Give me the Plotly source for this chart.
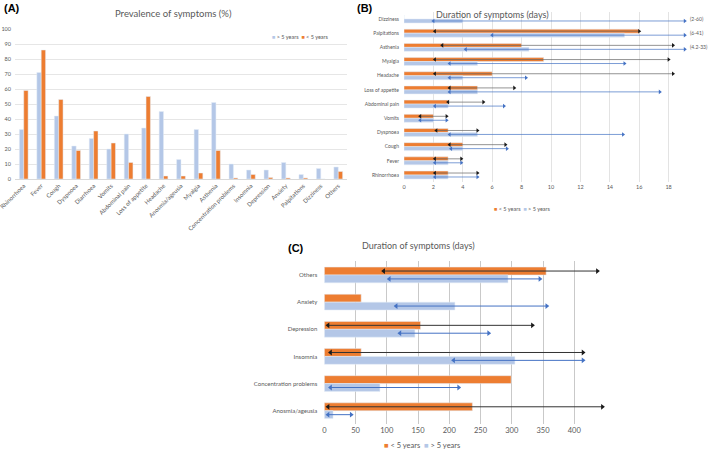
import plotly.graph_objects as go

# ---------------- Panel A data ----------------
cats_a = ["Rhinorrhoea", "Fever", "Cough", "Dyspnoea", "Diarrhoea", "Vomits",
          "Abdominal pain", "Loss of appetite", "Headache", "Anosmia/ageusia",
          "Myalgia", "Asthenia", "Concentration problems", "Insomnia",
          "Depression", "Anxiety", "Palpitations", "Dizziness", "Others"]
a_gt5 = [33, 71, 42, 22, 27, 20, 30, 34, 45, 13, 33, 51, 10, 6, 6, 11, 3, 7, 8]
a_lt5 = [59, 86, 53, 19, 32, 24, 11, 55, 2, 2, 4, 19, 0.7, 3, 1, 0.7, 0.7, 0, 5]

# ---------------- Panel B data (top to bottom) ----------------
cats_b = ["Dizziness", "Palpitations", "Asthenia", "Myalgia", "Headache",
          "Loss of appetite", "Abdominal pain", "Vomits", "Dyspnoea", "Cough",
          "Fever", "Rhinorrhoea"]
b_lt5 = [None, 16, 8, 9.5, 6, 5, 3, 2, 3, 4, 3, 3]
b_lt5_lo = [None, 2.1, 2.6, 2.1, 2.1, 3.1, 3, 1.1, 2.2, 3.1, 2.1, 2.1]
b_lt5_hi = [None, 16, 18.3, 18, 18.3, 7.5, 5.4, 2.9, 5, 6.9, 3.9, 5]
b_gt5 = [4, 15, 8.5, 5, 4, 5, 3, 2, 5, 4, 3, 3]
b_gt5_lo = [2, 6, 4.2, 3.1, 3.1, 3.1, 2.1, 1.1, 3.1, 3.2, 2.1, 2.1]
b_gt5_hi = [60, 41, 33, 15, 8.3, 17.4, 6.8, 2.9, 14.9, 7, 3.9, 5]
b_ticks = [0, 2, 4, 6, 8, 10, 12, 14, 16, 18]

# ---------------- Panel C data (top to bottom) ----------------
cats_c = ["Others", "Anxiety", "Depression", "Insomnia",
          "Concentration problems", "Anosmia/ageusia"]
c_lt5 = [355, 59, 154, 59, 299, 237]
c_lt5_lo = [95, None, 6, 10, None, 6]
c_lt5_hi = [437, None, 333, 414, None, 445]
c_gt5 = [294, 209, 145, 305, 89, 14]
c_gt5_lo = [104, 115, 121, 207, 10, 6]
c_gt5_hi = [345, 356, 263, 414, 215, 43]
c_ticks = [0, 50, 100, 150, 200, 250, 300, 350, 400]

series_names = ["< 5 years", "> 5 years"]

ORANGE = "#ED7D31"
LBLUE = "#B4C7E7"
DBLUE = "#4472C4"
DARK = "#1a1a1a"
GRAY_TXT = "#595959"
FONT = "Lato"

W, H = 709, 450
def px(x):
    return x / W
def py(y):
    return (H - y) / H

fig = go.Figure()

# ---- Panel A ----
fig.add_trace(go.Bar(x=cats_a, y=a_gt5, name=series_names[1], marker_color=LBLUE,
                     xaxis="x", yaxis="y", showlegend=False))
fig.add_trace(go.Bar(x=cats_a, y=a_lt5, name=series_names[0], marker_color=ORANGE,
                     xaxis="x", yaxis="y", showlegend=False))


def range_trace(cats, lo, hi, off, color, lcolor, size, lw, xa, ya, clip=None):
    n = len(cats)
    xs, ys, syms = [], [], []
    for i in range(n):
        if lo[i] is None:
            continue
        yy = (n - 1 - i) + off
        h = hi[i] if clip is None else min(hi[i], clip)
        xs += [lo[i], h, None]
        ys += [yy, yy, None]
        syms += ["triangle-left", "triangle-right", "circle"]
    return go.Scatter(x=xs, y=ys, mode="lines+markers",
                      line=dict(color=lcolor, width=lw),
                      marker=dict(symbol=syms, size=size, color=color),
                      xaxis=xa, yaxis=ya, showlegend=False, hoverinfo="skip",
                      connectgaps=False)


def hbars(cats, vals, offset, width, color, name, xa, ya):
    n = len(cats)
    ys = [(n - 1 - i) for i in range(n)]
    return go.Bar(x=[v if v is not None else 0 for v in vals], y=ys, orientation="h",
                  width=width, offset=offset, marker_color=color, name=name,
                  xaxis=xa, yaxis=ya, showlegend=False)

# ---- Panel B ----
B_CLIP = 19.1
wb = 0.28
fig.add_trace(hbars(cats_b, b_lt5, 0, wb, ORANGE, series_names[0], "x2", "y2"))
fig.add_trace(hbars(cats_b, b_gt5, -wb, wb, LBLUE, series_names[1], "x2", "y2"))
fig.add_trace(range_trace(cats_b, b_lt5_lo, b_lt5_hi, wb / 2, DARK, "#666666", 4, 0.7,
                          "x2", "y2", clip=B_CLIP))
fig.add_trace(range_trace(cats_b, b_gt5_lo, b_gt5_hi, -wb / 2, DBLUE, DBLUE, 4, 0.7,
                          "x2", "y2", clip=B_CLIP))

# ---- Panel C ----
wc = 0.29
fig.add_trace(hbars(cats_c, c_lt5, 0, wc, ORANGE, series_names[0], "x3", "y3"))
fig.add_trace(hbars(cats_c, c_gt5, -wc, wc, LBLUE, series_names[1], "x3", "y3"))
fig.add_trace(range_trace(cats_c, c_lt5_lo, c_lt5_hi, wc / 2, DARK, "#333333", 5, 1.0,
                          "x3", "y3"))
fig.add_trace(range_trace(cats_c, c_gt5_lo, c_gt5_hi, -wc / 2, DBLUE, DBLUE, 5, 1.0,
                          "x3", "y3"))


def legend_text(entries):
    parts = []
    for name, color in entries:
        parts.append(f"<span style='color:{color}'>■</span> {name}")
    return "  ".join(parts)


annotations = []
# range labels for clipped ranges in B (placed just right of the plot area)
nb = len(cats_b)
for i in range(nb):
    if b_gt5_hi[i] > B_CLIP:
        annotations.append(dict(x=px(688), y=(nb - 1 - i), xref="paper", yref="y2",
                                text=f"({b_gt5_lo[i]:g}-{b_gt5_hi[i]:g})", showarrow=False,
                                xanchor="left", yanchor="middle",
                                font=dict(size=5, color=GRAY_TXT, family=FONT)))

# legends (as compact text)
annotations += [
    dict(x=px(331), y=py(37), xref="paper", yref="paper",
         text=legend_text([(series_names[1], LBLUE), (series_names[0], ORANGE)]),
         showarrow=False, xanchor="right", yanchor="middle",
         font=dict(size=5.5, color=GRAY_TXT, family=FONT)),
    dict(x=px(522), y=py(209), xref="paper", yref="paper",
         text=legend_text([(series_names[0], ORANGE), (series_names[1], LBLUE)]),
         showarrow=False, xanchor="center", yanchor="middle",
         font=dict(size=5.5, color=GRAY_TXT, family=FONT)),
    dict(x=px(422), y=py(445), xref="paper", yref="paper",
         text=legend_text([(series_names[0], ORANGE), (series_names[1], LBLUE)]),
         showarrow=False, xanchor="center", yanchor="middle",
         font=dict(size=7.5, color=GRAY_TXT, family=FONT)),
]

# titles and panel letters
annotations += [
    dict(x=px(173), y=py(14), xref="paper", yref="paper", text="Prevalence of symptoms (%)",
         showarrow=False, xanchor="center", yanchor="middle",
         font=dict(size=9.5, color=GRAY_TXT, family=FONT)),
    dict(x=px(492), y=py(15), xref="paper", yref="paper", text="Duration of symptoms (days)",
         showarrow=False, xanchor="center", yanchor="middle",
         font=dict(size=9, color=GRAY_TXT, family=FONT)),
    dict(x=px(418), y=py(245), xref="paper", yref="paper", text="Duration of symptoms (days)",
         showarrow=False, xanchor="center", yanchor="middle",
         font=dict(size=9, color=GRAY_TXT, family=FONT)),
    dict(x=px(2), y=py(8), xref="paper", yref="paper", text="<b>(A)</b>",
         showarrow=False, xanchor="left", yanchor="middle",
         font=dict(size=11, color="black", family="Liberation Sans")),
    dict(x=px(355), y=py(8), xref="paper", yref="paper", text="<b>(B)</b>",
         showarrow=False, xanchor="left", yanchor="middle",
         font=dict(size=11, color="black", family="Liberation Sans")),
    dict(x=px(286), y=py(248), xref="paper", yref="paper", text="<b>(C)</b>",
         showarrow=False, xanchor="left", yanchor="middle",
         font=dict(size=11, color="black", family="Liberation Sans")),
]

tickfont_small = dict(size=5.5, color=GRAY_TXT, family=FONT)

fig.update_layout(
    width=W, height=H,
    margin=dict(l=0, r=0, t=0, b=0, autoexpand=False),
    paper_bgcolor="white", plot_bgcolor="white",
    barmode="group", bargap=0.5, bargroupgap=0,
    showlegend=False,
    font=dict(family=FONT, color=GRAY_TXT),
    annotations=annotations,
    xaxis=dict(domain=[px(15), px(347)], anchor="y", tickangle=-45, automargin=False,
               tickfont=dict(size=6, color=GRAY_TXT, family=FONT),
               showgrid=False, showline=True, linecolor="#d9d9d9", linewidth=1,
               ticks=""),
    yaxis=dict(domain=[py(179), py(29)], anchor="x", range=[0, 100], dtick=10,
               automargin=False,
               tickfont=dict(size=5.5, color=GRAY_TXT, family=FONT),
               gridcolor="#e6e6e6", gridwidth=0.8, zeroline=False, showline=False,
               ticks="", ticklabelstandoff=3),
    xaxis2=dict(domain=[px(404), px(687)], anchor="y2", range=[0, 19.25],
                automargin=False,
                tickvals=b_ticks, tickfont=tickfont_small, gridcolor="#e3e3e3",
                gridwidth=0.8, zeroline=False, showline=False, ticks=""),
    yaxis2=dict(domain=[py(182.1), py(11.9)], anchor="x2", range=[-0.5, nb - 0.5],
                automargin=False,
                tickvals=list(range(nb)), ticktext=cats_b[::-1],
                tickfont=dict(size=5, color=GRAY_TXT, family=FONT),
                showgrid=False, zeroline=False, showline=False, ticks="",
                ticklabelstandoff=4),
    xaxis3=dict(domain=[px(324.3), px(605.5)], anchor="y3", range=[0, 450],
                automargin=False,
                tickvals=c_ticks, tickfont=dict(size=7.5, color=GRAY_TXT, family=FONT),
                gridcolor="#c9c9c9", gridwidth=1.3, zeroline=False, showline=False,
                ticks=""),
    yaxis3=dict(domain=[py(424.3), py(261.4)], anchor="x3", range=[-0.5, len(cats_c) - 0.5],
                automargin=False,
                tickvals=list(range(len(cats_c))), ticktext=cats_c[::-1],
                tickfont=dict(size=6, color=GRAY_TXT, family=FONT),
                showgrid=False, zeroline=False, showline=False, ticks="",
                ticklabelstandoff=6),
)

fig.write_html("out.html", config={"displayModeBar": False},
               post_script="document.body.style.margin='0';")
